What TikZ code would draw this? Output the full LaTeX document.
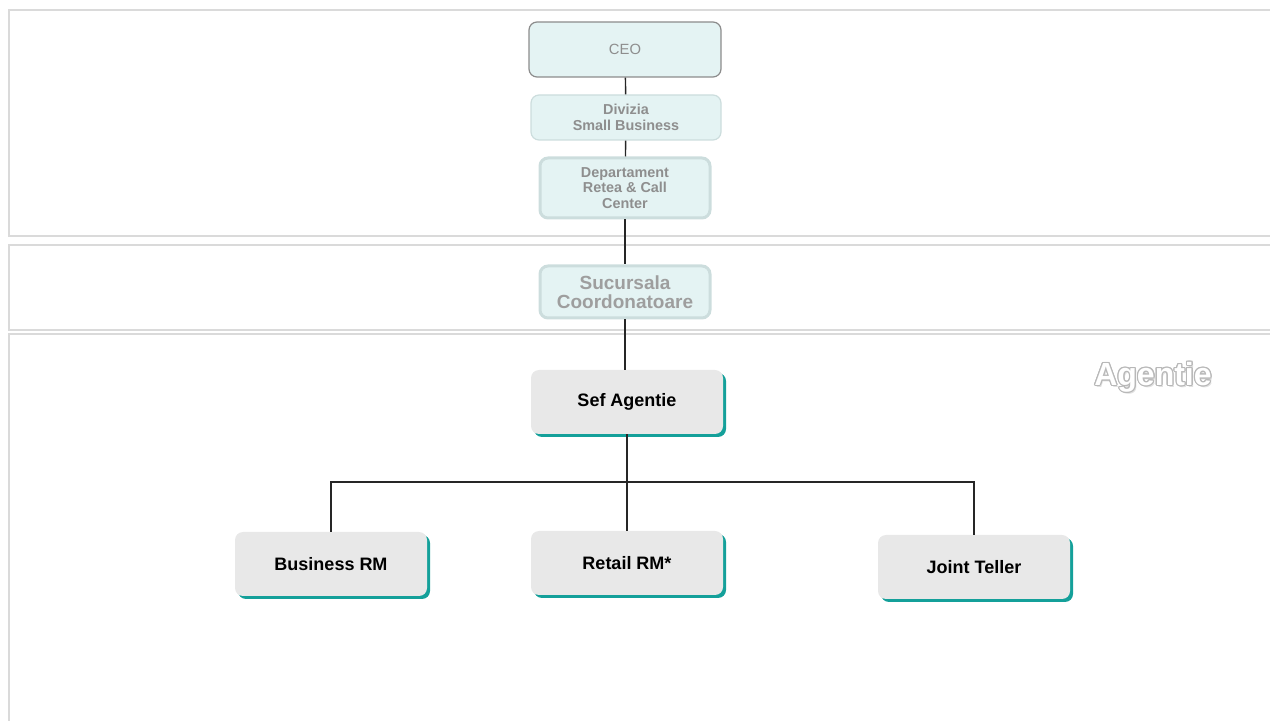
\documentclass[tikz,border=0pt]{standalone}
\usepackage{fontspec}
\setmainfont{Liberation Sans}
\usetikzlibrary{shadows}

\definecolor{paleteal}{HTML}{E4F3F3}
\definecolor{tealedge}{HTML}{CCDDDD}
\definecolor{tealshade}{HTML}{14A09A}
\definecolor{boxgray}{HTML}{E8E8E8}
\definecolor{panelline}{HTML}{DADADA}
\definecolor{fadedtext}{HTML}{8E8E8E}

\tikzset{
  panel/.style={draw=panelline, line width=0.8pt},
  upperbox/.style={fill=paleteal, rounded corners=4pt, align=center, inner sep=1pt,
    text=fadedtext, font=\bfseries\fontsize{7.2}{7.8}\selectfont},
  agencybox/.style={fill=boxgray, rounded corners=4pt, align=center,
    minimum width=96pt, minimum height=32pt, font=\bfseries\fontsize{9}{10}\selectfont,
    drop shadow={fill=tealshade, opacity=1, shadow xshift=1.5pt, shadow yshift=-1.5pt}},
  link/.style={draw=black!85, line width=0.7pt},
  outlinetext/.style={font=\bfseries\fontsize{16}{16}\selectfont}
}

\begin{document}
\begin{tikzpicture}[x=0.5pt,y=-0.5pt]
  \useasboundingbox (0,0) rectangle (1270,721);
  % panels
  \draw[panel] (1290,10) -- (9,10) -- (9,236) -- (1290,236);
  \draw[panel] (1290,245) -- (9,245) -- (9,330) -- (1290,330);
  \draw[panel] (1290,334) -- (9,334) -- (9,740);
  % nodes
  \path
    (625,49.5) node[upperbox, draw=black!45, line width=0.6pt, minimum width=96pt,
      minimum height=27.5pt, font=\fontsize{7.4}{8}\selectfont] (ceo){CEO}
    (626,117.5) node[upperbox, draw=tealedge, line width=0.6pt, minimum width=95pt,
      minimum height=22.5pt] (divizia){Divizia\\Small Business}
    (625,188) node[upperbox, draw=tealedge, line width=1.5pt, minimum width=85pt,
      minimum height=30pt] (dept){Departament\\Retea \& Call\\Center}
    (625,292) node[upperbox, draw=tealedge, line width=1.5pt, minimum width=85pt,
      minimum height=26pt, text=black!38, font=\bfseries\fontsize{9.5}{9.6}\selectfont]
      (sucursala){Sucursala\\Coordonatoare}
    (627,402) node[agencybox] (sef){Sef Agentie}
    (331,564) node[agencybox] (business){Business RM}
    (627,563) node[agencybox] (retail){Retail RM*}
    (974,567) node[agencybox] (teller){Joint Teller};
  % outlined title
  \node[outlinetext, text=black!12, shift={(0.8pt,-1pt)}] at (1153,377) {Agentie};
  \foreach \a in {0,30,...,330}
    \node[outlinetext, text=black!28, shift={(\a:0.6pt)}] at (1153,377) {Agentie};
  \node[outlinetext, text=white] (agentie) at (1153,377) {Agentie};
  % connectors
  \coordinate (bus) at (627,482);
  \begin{scope}[link]
    \draw (ceo) -- (divizia);
    \draw (divizia) -- (dept);
    \draw (dept) -- (sucursala);
    \draw (sucursala.south) -- (sef.north -| sucursala.south);
    \draw (sef) -- (bus);
    \draw (business.north) |- (bus) -| (teller.north);
    \draw (bus) -- (retail);
  \end{scope}
\end{tikzpicture}
\end{document}
